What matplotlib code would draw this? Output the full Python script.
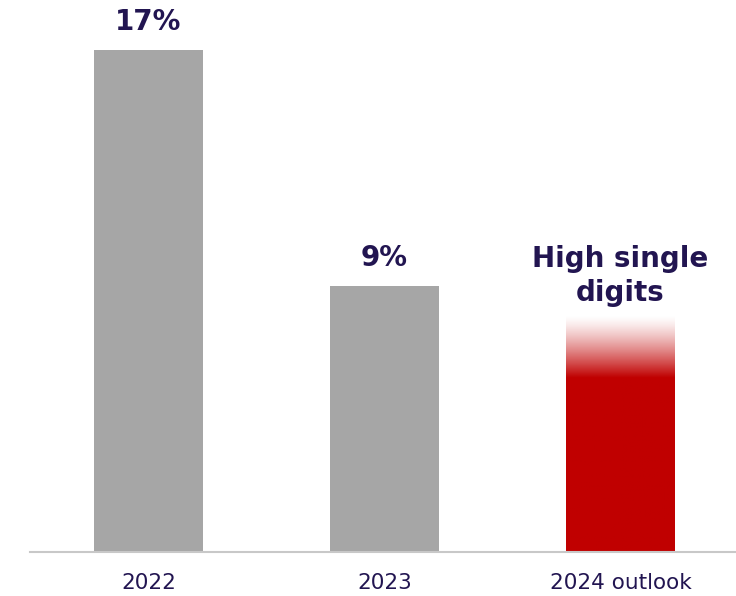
import matplotlib
matplotlib.use("Agg")
import matplotlib.pyplot as plt
import numpy as np

# growth by period
periods = ["2022", "2023", "2024 outlook"]
values = [17, 9, 8]
labels = ["17%", "9%", "High single\ndigits"]

navy = "#221551"
grey = "#a6a6a6"
red = "#c00000"

plt.rcParams["font.family"] = "DejaVu Sans"

fig = plt.figure(figsize=(7.36, 5.96), dpi=100)
ax = fig.add_axes([30 / 736, 44 / 596, 706 / 736, 552 / 596])

x = np.arange(len(periods))
width = 0.46

# first two bars are plain grey
ax.bar(x[:2], values[:2], width=width, color=grey, zorder=2)

# outlook bar: solid red fading out towards the top
fade_len = 2.1
n = 256
ys = np.linspace(0, values[2], n)
alpha = np.clip((values[2] - ys) / fade_len, 0, 1) ** 1.3
rgba = np.zeros((n, 1, 4))
rgba[..., :3] = matplotlib.colors.to_rgb(red)
rgba[:, 0, 3] = alpha
ax.imshow(rgba, origin="lower", aspect="auto", interpolation="bilinear",
          extent=[x[2] - width / 2, x[2] + width / 2, 0, values[2]], zorder=2)

for xi, v, lab in zip(x, values, labels):
    ax.annotate(lab, (xi, v), xytext=(0, 10.5 if "\n" in lab else 14.5),
                textcoords="offset points", ha="center", va="baseline",
                fontsize=20, fontweight="bold", color=navy,
                linespacing=1.28, annotation_clip=False)

ax.set_xlim(-0.502, 2.49)
ax.set_ylim(0, 18.71)
ax.set_xticks(x)
ax.set_xticklabels(periods, fontsize=15.5, color=navy)
ax.tick_params(axis="x", length=0, pad=15)
ax.set_yticks([])
for side in ["top", "left", "right"]:
    ax.spines[side].set_visible(False)
ax.spines["bottom"].set_color("#c8c8c8")
ax.spines["bottom"].set_linewidth(1.5)

fig.savefig("out.png", dpi=100)
